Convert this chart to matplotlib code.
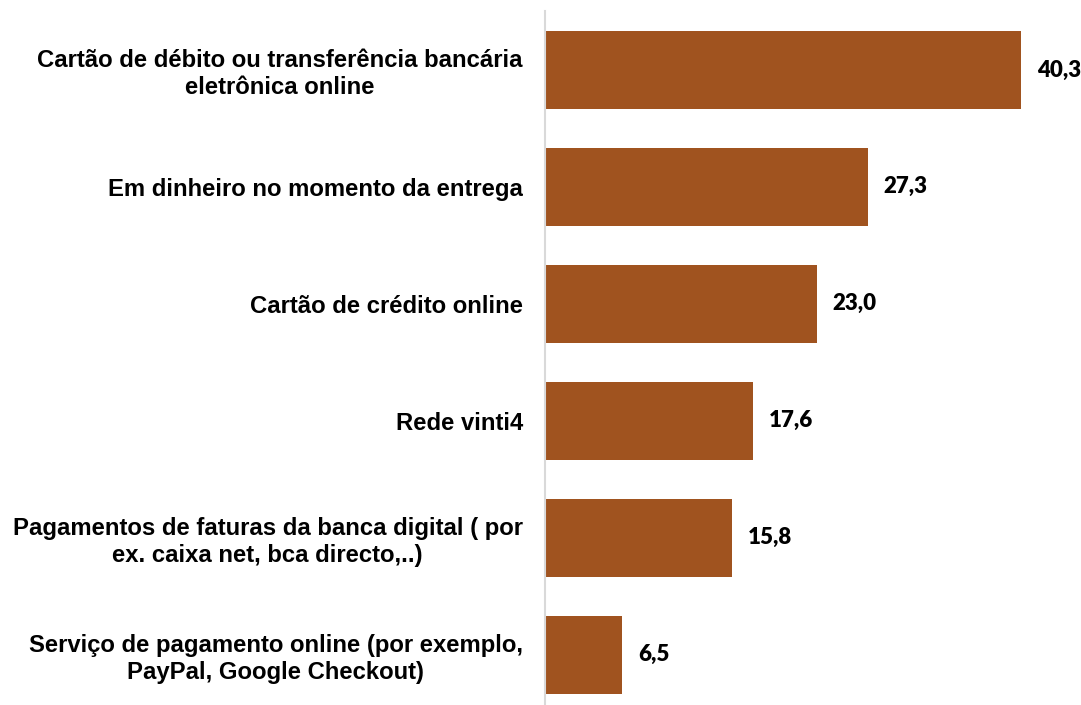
import matplotlib
matplotlib.use("Agg")
import matplotlib.pyplot as plt

categories = [
    "Cartão de débito ou transferência bancária\neletrônica online",
    "Em dinheiro no momento da entrega",
    "Cartão de crédito online",
    "Rede vinti4",
    "Pagamentos de faturas da banca digital ( por\nex. caixa net, bca directo,..)",
    "Serviço de pagamento online (por exemplo,\nPayPal, Google Checkout)",
]
values = [40.3, 27.3, 23.0, 17.6, 15.8, 6.5]
value_labels = ["40,3", "27,3", "23,0", "17,6", "15,8", "6,5"]

fig = plt.figure(figsize=(10.81, 7.05), dpi=100)
ax = fig.add_axes([545/1081, 0.0, 1 - 545/1081 - 0.004, 1 - 11/705])

ypos = list(range(len(categories)))
ax.barh(ypos, values, height=0.667, color="#A0531F")
ax.set_xlim(0, 45)
ax.set_ylim(5.43, -0.504)

for s in ["top", "right", "bottom"]:
    ax.spines[s].set_visible(False)
ax.spines["left"].set_color("#D9D9D9")
ax.spines["left"].set_linewidth(1.5)
ax.set_xticks([])
ax.set_yticks(ypos)
ax.set_yticklabels(categories, fontsize=17.2, fontweight="bold",
                   family=["Liberation Sans", "DejaVu Sans"], multialignment="center",
                   linespacing=1.2)
ax.tick_params(axis="y", length=0, pad=16)

for y, v, lab in zip(ypos, values, value_labels):
    ax.annotate(lab, (v, y), xytext=(11.5, 0), textcoords="offset points",
                va="center", ha="left", fontsize=16, fontweight="heavy",
                family=["Lato", "DejaVu Sans"], clip_on=False)

fig.savefig("out.png", dpi=100)
